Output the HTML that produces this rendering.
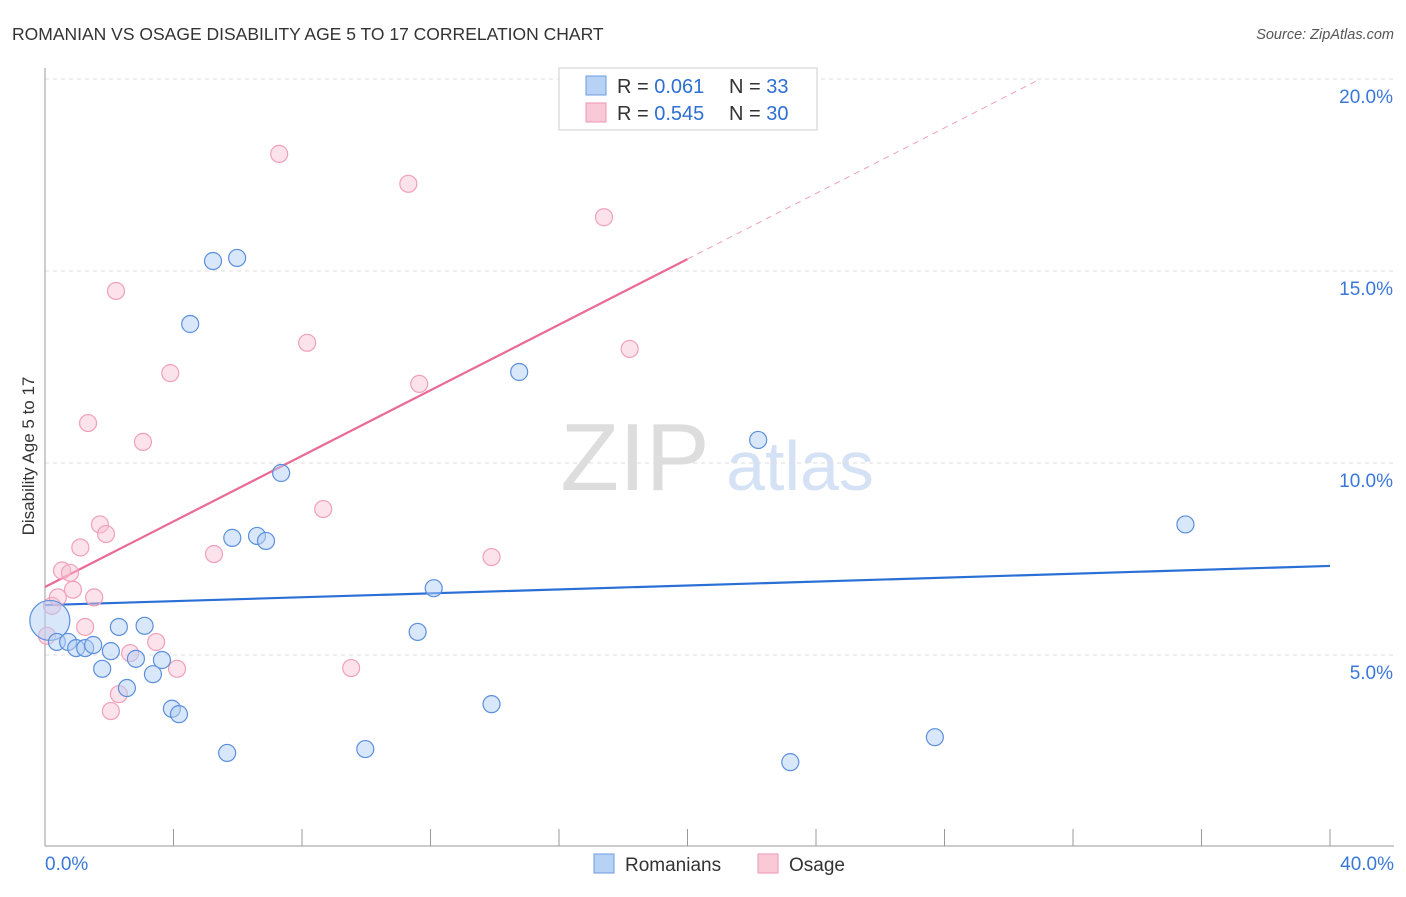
<!DOCTYPE html>
<html><head><meta charset="utf-8"><style>
body{margin:0;background:#fff;font-family:"Liberation Sans",sans-serif;}
svg text{font-family:"Liberation Sans",sans-serif;}
</style></head><body>
<svg id="c" width="1406" height="892">
<text x="12" y="40" font-size="17.5" fill="#333">ROMANIAN VS OSAGE DISABILITY AGE 5 TO 17 CORRELATION CHART</text>
<text x="1394" y="39" font-size="14.5" fill="#555" font-style="italic" text-anchor="end">Source: ZipAtlas.com</text>
<text x="34" y="456" font-size="17" fill="#333" text-anchor="middle" transform="rotate(-90 34 456)">Disability Age 5 to 17</text>
<g><text x="635" y="490" font-size="96" fill="#ddd" font-family="Liberation Serif" text-anchor="middle">ZIP</text><text x="800" y="490" font-size="70" fill="#d5e2f5" text-anchor="middle">atlas</text></g>
<g id="grid"></g><g id="axes"></g><g id="lines"></g><g id="pts"></g>
<g>
<rect x="559" y="68" width="258" height="62" fill="#fff" stroke="#ccc"/>
<rect x="586" y="76" width="20" height="19" fill="#b8d2f5" stroke="#6a9be0"/>
<rect x="586" y="103" width="20" height="19" fill="#fac9d8" stroke="#ee96b2"/>
<text x="617" y="93" font-size="20" fill="#333">R = <tspan fill="#2e6fd4">0.061</tspan></text>
<text x="729" y="93" font-size="20" fill="#333">N = <tspan fill="#2e6fd4">33</tspan></text>
<text x="617" y="120" font-size="20" fill="#333">R = <tspan fill="#2e6fd4">0.545</tspan></text>
<text x="729" y="120" font-size="20" fill="#333">N = <tspan fill="#2e6fd4">30</tspan></text>
</g>
<g>
<rect x="594" y="854" width="20" height="19" fill="#b8d2f5" stroke="#6a9be0"/>
<text x="625" y="871" font-size="19" fill="#333">Romanians</text>
<rect x="758" y="854" width="20" height="19" fill="#fac9d8" stroke="#ee96b2"/>
<text x="789" y="871" font-size="19" fill="#333">Osage</text>
</g>
</svg>
<script>
const blueX=[0.15,0.37,0.72,0.97,1.25,1.5,1.78,2.05,2.3,2.55,2.83,3.1,3.36,3.64,3.95,4.17,4.52,5.23,5.67,5.83,5.98,6.6,6.88,7.35,9.97,11.6,12.1,13.9,14.76,22.2,23.2,27.7,35.5];
const blueY=[5.9,5.34,5.34,5.18,5.18,5.26,4.64,5.1,5.73,4.14,4.9,5.76,4.5,4.87,3.6,3.46,13.62,15.26,2.45,8.05,15.34,8.1,7.97,9.74,2.55,5.6,6.74,3.72,12.37,10.6,2.21,2.86,8.4];
const pinkX=[0.22,0.06,0.4,0.53,0.78,0.87,1.1,1.25,1.34,1.53,1.71,1.9,2.05,2.21,2.3,2.65,3.05,3.46,3.9,4.11,5.26,7.29,8.16,8.66,9.53,11.31,11.65,13.9,17.4,18.2];
const pinkY=[6.28,5.5,6.5,7.2,7.14,6.7,7.8,5.73,11.04,6.5,8.4,8.15,3.54,14.48,3.98,5.05,10.55,5.34,12.34,4.64,7.63,18.05,13.13,8.8,4.66,17.27,12.06,7.55,16.4,12.97];
const yTicks=[5,10,15,20];
const yTickLabels=["5.0%","10.0%","15.0%","20.0%"];
const blueLine=[6.3,7.32];
const pinkLine=[6.77,15.31];
const NS="http://www.w3.org/2000/svg";
const sx=v=>45+v*32.125, sy=v=>847-v*38.4;
function mk(t,a,p){const e=document.createElementNS(NS,t);for(const k in a)e.setAttribute(k,a[k]);document.getElementById(p).appendChild(e);return e;}
yTicks.forEach((t,i)=>{
 const l=mk('line',{x1:45,x2:1394,y1:sy(t),y2:sy(t),stroke:'#ddd','stroke-dasharray':'4,4'},'grid');
 
 
 const tx=mk('text',{x:1393,y:sy(t)+24,'font-size':19,fill:'#3a78d8','text-anchor':'end'},'grid');
 tx.textContent=yTickLabels[i];
 
 
});
mk('line',{x1:45,x2:45,y1:68,y2:846,stroke:'#999'},'axes');
mk('line',{x1:45,x2:1394,y1:846,y2:846,stroke:'#999'},'axes');
for(let i=1;i<=10;i++){const tk=mk('line',{x1:sx(i*4),x2:sx(i*4),y1:829,y2:846,stroke:'#999'},'axes');
 
 }
const x0=mk('text',{x:45,y:870,'font-size':19,fill:'#3a78d8'},'axes');x0.textContent='0.0%';


const x1=mk('text',{x:1394,y:870,'font-size':19,fill:'#3a78d8','text-anchor':'end'},'axes');x1.textContent='40.0%';


pinkX.forEach((x,i)=>{const c=mk('circle',{cx:sx(x),cy:sy(pinkY[i]),r:8.5,fill:'rgba(248,190,208,0.45)',stroke:'#f0a0ba','stroke-width':1.2},'pts');
 
 });
blueX.forEach((x,i)=>{const c=mk('circle',{cx:sx(x),cy:sy(blueY[i]),r:i==0?20:8.5,fill:'rgba(180,208,245,0.5)',stroke:'#5b8fdc','stroke-width':1.2},'pts');
 
 });
const bl=mk('line',{x1:sx(0),y1:sy(blueLine[0]),x2:sx(40),y2:sy(blueLine[1]),stroke:'#2a6fd6','stroke-width':2.2},'lines');


const pl=mk('line',{x1:sx(0),y1:sy(pinkLine[0]),x2:sx(20),y2:sy(pinkLine[1]),stroke:'#e96a95','stroke-width':2.2},'lines');


const slope=(pinkLine[1]-pinkLine[0])/20, xe=(20-pinkLine[0])/slope;
const pd=mk('line',{x1:sx(20),y1:sy(pinkLine[1]),x2:sx(xe),y2:sy(20),stroke:'#eea0b8','stroke-width':1,'stroke-dasharray':'6,5'},'lines');


</script>
</body></html>
